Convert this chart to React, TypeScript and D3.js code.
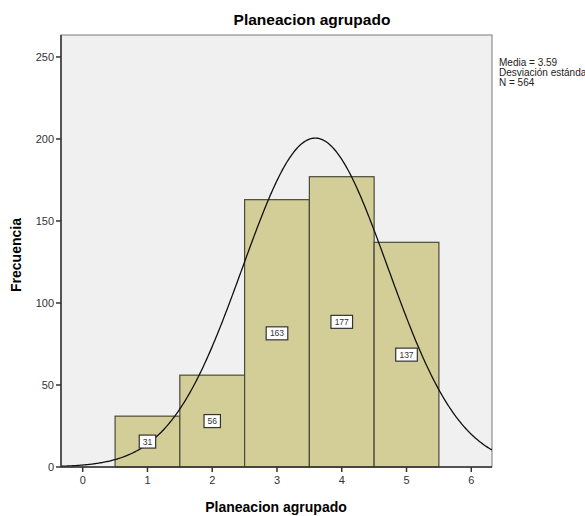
import React from "react";
import * as d3 from "d3";

const categories = [1, 2, 3, 4, 5];
const counts = [31, 56, 163, 177, 137];
const yTicks = [0, 50, 100, 150, 200, 250];
const xTicks = [0, 1, 2, 3, 4, 5, 6];
const statsLines = ["Media = 3.59", "Desviación estándar = 1.122", "N = 564"];
const meanValue = 3.59;
const sdValue = 1.122;
const nValue = 564;

const W = 585;
const H = 516;
const left = 61;
const right = 492;
const top = 35;
const bottom = 467;
const font = "Arial, 'Liberation Sans', sans-serif";

export default function App() {
  const x = d3.scaleLinear().domain([-0.335, 6.32]).range([left, right]);
  const y = d3.scaleLinear().domain([0, 263.4]).range([bottom, top]);

  // normal density scaled to counts (bin width 1)
  const curvePts: [number, number][] = d3
    .range(0, 401)
    .map((i) => -0.335 + (i / 400) * (6.32 + 0.335))
    .map((v) => [
      v,
      (nValue / (sdValue * Math.sqrt(2 * Math.PI))) *
        Math.exp(-((v - meanValue) ** 2) / (2 * sdValue * sdValue)),
    ]);
  const line = d3
    .line<[number, number]>()
    .x((d) => x(d[0]))
    .y((d) => y(d[1]));

  return (
    <svg width={W} height={H} style={{ display: "block", position: "absolute", left: 0, top: 0 }} fontFamily={font}>
      <rect x={0} y={0} width={W} height={H} fill="#ffffff" />
      <text x={312} y={25} textAnchor="middle" fontSize={15.5} fontWeight="bold" fill="#000">
        Planeacion agrupado
      </text>
      <defs>
        <clipPath id="plotClip">
          <rect x={left} y={top} width={right - left} height={bottom - top} />
        </clipPath>
      </defs>
      <rect x={left} y={top} width={right - left} height={bottom - top} fill="#f0f0f0" stroke="#7a7a7a" strokeWidth={1} />
      <g>
        {categories.map((c, i) => (
          <rect
            key={c}
            x={x(c - 0.5)}
            y={y(counts[i])}
            width={x(c + 0.5) - x(c - 0.5)}
            height={y(0) - y(counts[i])}
            fill="#d3ce98"
            stroke="#4a4a3a"
            strokeWidth={1.2}
          />
        ))}
      </g>
      <path d={line(curvePts) || ""} fill="none" stroke="#111" strokeWidth={1.3} clipPath="url(#plotClip)" />
      {categories.map((c, i) => {
        const label = String(counts[i]);
        const w = label.length * 5.2 + 6;
        const cy = y(counts[i] / 2);
        return (
          <g key={"l" + c}>
            <rect x={x(c) - w / 2} y={cy - 6.5} width={w} height={13} fill="#fff" stroke="#333" strokeWidth={1.2} />
            <text x={x(c)} y={cy + 3} textAnchor="middle" fontSize={8.5} fill="#333">
              {label}
            </text>
          </g>
        );
      })}
      {/* axes */}
      <line x1={left} y1={top} x2={left} y2={bottom} stroke="#333" strokeWidth={1.5} />
      <line x1={left} y1={bottom} x2={right} y2={bottom} stroke="#333" strokeWidth={1.5} />
      {yTicks.map((t) => (
        <g key={"y" + t}>
          <line x1={left - 5} x2={left} y1={y(t)} y2={y(t)} stroke="#333" strokeWidth={1.5} />
          <text x={left - 7} y={y(t) + 4} textAnchor="end" fontSize={11} fill="#333">
            {t}
          </text>
        </g>
      ))}
      {xTicks.map((t) => (
        <g key={"x" + t}>
          <line x1={x(t)} x2={x(t)} y1={bottom} y2={bottom + 5} stroke="#333" strokeWidth={1.5} />
          <text x={x(t)} y={bottom + 17} textAnchor="middle" fontSize={11} fill="#333">
            {t}
          </text>
        </g>
      ))}
      <text x={276} y={512} textAnchor="middle" fontSize={14} fontWeight="bold" fill="#000">
        Planeacion agrupado
      </text>
      <text
        transform={`translate(21, ${(top + bottom) / 2 + 4}) rotate(-90)`}
        textAnchor="middle"
        fontSize={14}
        fontWeight="bold"
        fill="#000"
      >
        Frecuencia
      </text>
      {statsLines.map((s, i) => (
        <text key={s} x={499} y={66 + i * 10} fontSize={10} fill="#222">
          {s}
        </text>
      ))}
    </svg>
  );
}
